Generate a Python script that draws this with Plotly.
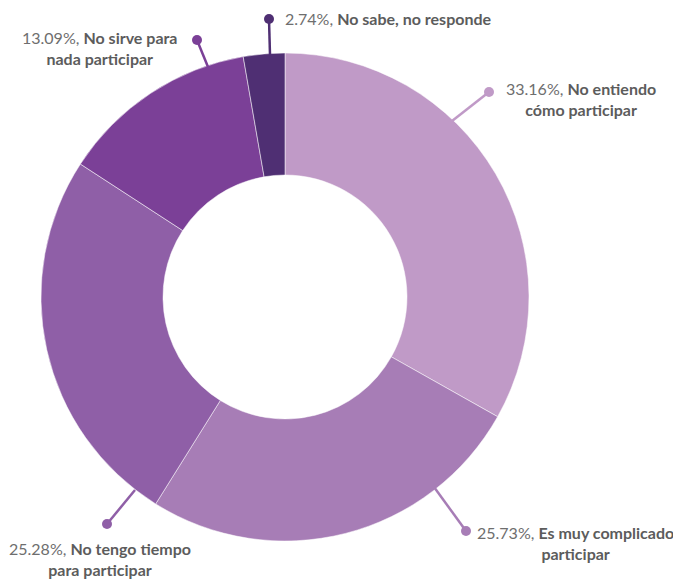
import plotly.graph_objects as go

# the page adds an 8px body margin, so the figure is made 8px smaller and
# all pixel positions below are page positions shifted by OFF
OFF = 8
W, H = 681 - OFF, 580 - OFF

# data
labels = ["No entiendo<br>cómo participar", "Es muy complicado<br>participar",
          "No tengo tiempo<br>para participar", "No sirve para<br>nada participar",
          "No sabe, no responde"]
values = [33.16, 25.73, 25.28, 13.09, 2.74]
colors = ["#c09ac7", "#a77db6", "#8f5fa7", "#7b4097", "#4f2f73"]

# label placement (page pixels): line start on ring, dot end, text anchor
leader_px = [((452, 121), (489, 92)), ((434, 487), (466, 531)), ((135, 490), (107, 524)),
             ((208, 67), (197, 40)), ((270, 55), (269, 19))]
text_px = [(581, 99, "center"), (575, 543, "center"), (100, 559, "center"),
           (100, 48, "center"), (283, 18, "left")]


def px(x, y):
    return (x - OFF) / W, 1 - (y - OFF) / H


dx0, dy0 = px(40, 541)
dx1, dy1 = px(530, 53)
fig = go.Figure(go.Pie(
    values=values, labels=labels, sort=False, direction="clockwise", rotation=0,
    hole=0.5, textinfo="none", showlegend=False,
    marker=dict(colors=colors, line=dict(color="rgba(255,255,255,0.5)", width=1)),
    domain=dict(x=[dx0, dx1], y=[dy0, dy1]),
))

shapes, annotations = [], []
for i, (v, lab) in enumerate(zip(values, labels)):
    (x0, y0), (x1, y1) = leader_px[i]
    a0, b0 = px(x0, y0)
    a1, b1 = px(x1, y1)
    shapes.append(dict(type="line", xref="paper", yref="paper", x0=a0, y0=b0, x1=a1, y1=b1,
                       line=dict(color=colors[i], width=2.5)))
    shapes.append(dict(type="circle", xref="paper", yref="paper", xsizemode="pixel",
                       ysizemode="pixel", xanchor=a1, yanchor=b1, x0=-5, x1=5, y0=-5, y1=5,
                       fillcolor=colors[i], line=dict(width=0)))
    tx, ty, al = text_px[i]
    ax, ay = px(tx, ty)
    annotations.append(dict(
        x=ax, y=ay, xref="paper", yref="paper", showarrow=False,
        xanchor=al, yanchor="middle", align=al,
        text=f"{v:.2f}%, <b><span style='color:#5c5c5c'>{lab}</span></b>",
        font=dict(family="Lato, sans-serif", size=16, color="#6e6e6e"),
    ))

fig.update_layout(
    width=W, height=H, margin=dict(l=0, r=0, t=0, b=0),
    paper_bgcolor="white", plot_bgcolor="white",
    shapes=shapes, annotations=annotations,
)
fig.write_html("out.html")
